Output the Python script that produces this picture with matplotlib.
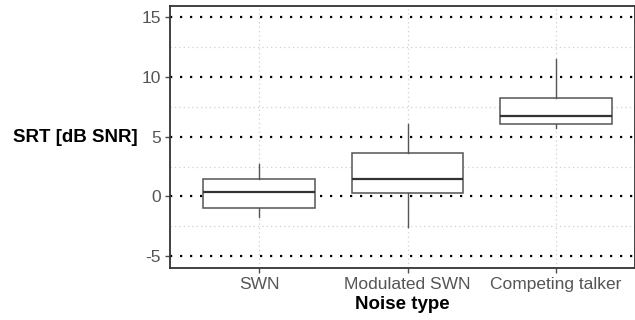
import numpy as np
import matplotlib.pyplot as plt
from matplotlib.ticker import MultipleLocator

plt.rcParams['font.family'] = ['Liberation Sans', 'DejaVu Sans']
plt.rcParams['axes.unicode_minus'] = False

# Datos (estadísticos del boxplot)
categorias = ["SWN", "Modulated SWN", "Competing talker"]
whisker_bajo = [-1.75, -2.6, 5.75]
q1 = [-1.0, 0.25, 6.1]
mediana = [0.4, 1.5, 6.7]
q3 = [1.5, 3.67, 8.25]
whisker_alto = [2.75, 6.08, 11.5]

stats = []
for i, nombre in enumerate(categorias):
    stats.append({'label': nombre, 'whislo': whisker_bajo[i], 'q1': q1[i],
                  'med': mediana[i], 'q3': q3[i], 'whishi': whisker_alto[i],
                  'fliers': []})

fig = plt.figure(figsize=(6.35, 3.2), dpi=100)
ax = fig.add_axes([170 / 635, 52 / 320, 1 - 170 / 635, 262.5 / 320])

posiciones = np.arange(1, len(categorias) + 1)
ax.bxp(stats, positions=posiciones, widths=0.75, showfliers=False, patch_artist=True,
       boxprops={'facecolor': 'white', 'edgecolor': '#555555', 'linewidth': 1.1},
       whiskerprops={'color': '#555555', 'linewidth': 1.0},
       capprops={'linewidth': 0}, medianprops={'color': '#333333', 'linewidth': 1.6},
       zorder=3)

ax.set_xlim(0.4, 0.4 + 465 / 148.5)
ax.set_ylim(-6, 16)
ax.yaxis.set_major_locator(MultipleLocator(5))
ax.yaxis.set_minor_locator(MultipleLocator(2.5))
ax.set_xticks(posiciones)
ax.set_xticklabels(categorias)

# Rejilla
ax.grid(which='major', axis='y', color='black', linestyle=(0, (1, 3.5)), linewidth=1.6, zorder=1)
ax.grid(which='minor', axis='y', color='#d0d0d0', linestyle=(0, (1, 2.5)), linewidth=0.9, zorder=0)
ax.grid(which='major', axis='x', color='#d0d0d0', linestyle=(0, (1, 2.5)), linewidth=0.9, zorder=0)
ax.set_axisbelow(True)

for s in ax.spines.values():
    s.set_color('#333333')
    s.set_linewidth(1.3)

ax.tick_params(axis='both', which='major', colors='#4d4d4d', labelsize=12.5,
               length=3.5, width=1, pad=3)
ax.tick_params(axis='y', which='minor', length=0)
for lbl in ax.get_xticklabels() + ax.get_yticklabels():
    lbl.set_color('#555555')

ax.set_xlabel('Noise type', fontsize=13.5, fontweight='bold', color='black', labelpad=3)
ax.set_ylabel('SRT [dB SNR]', fontsize=13.5, fontweight='bold', color='black',
              rotation=0, ha='right', va='center')
ax.yaxis.set_label_coords(-32 / 465, (268 - 138) / 262.5)

fig.savefig('out.png', dpi=100)
